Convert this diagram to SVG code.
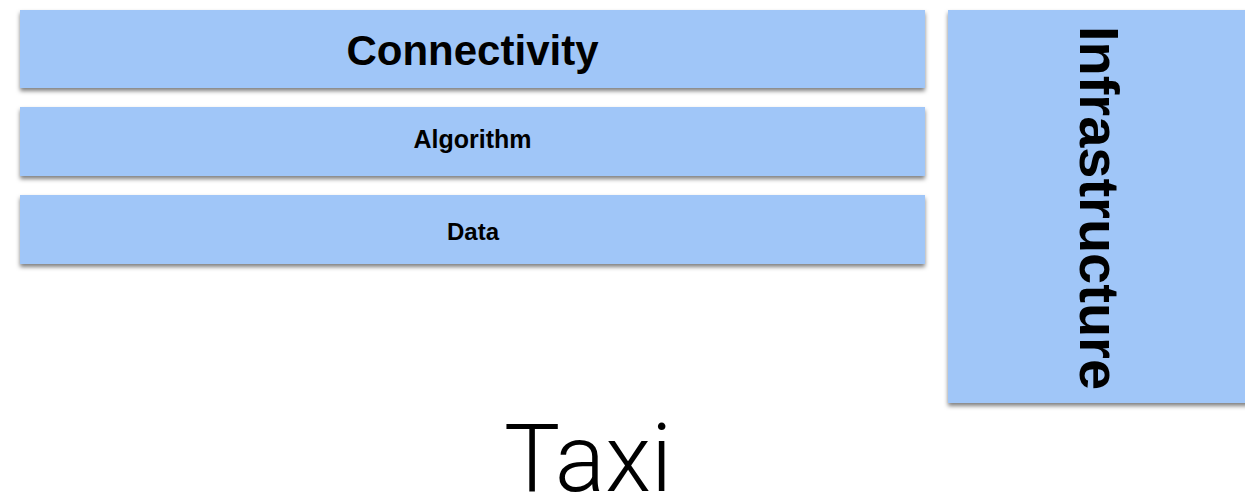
<svg xmlns="http://www.w3.org/2000/svg" width="1245" height="498" viewBox="0 0 1245 498">
<defs>
<style>
.box{fill:#a0c6f8;filter:url(#sh);}
.lbl{font-family:"Liberation Sans",Arial,sans-serif;font-weight:bold;fill:#000;text-anchor:middle;}
.big{font-family:Roboto,"Liberation Sans",sans-serif;font-weight:300;fill:#000;text-anchor:middle;}
</style>
<filter id="sh" x="-5%" y="-20%" width="110%" height="150%">
<feDropShadow dx="0" dy="3" stdDeviation="2" flood-color="#000" flood-opacity="0.5"/>
</filter>
</defs>
<rect width="1245" height="498" fill="#fff"/>
<g id="connectivity">
<rect class="box" x="20" y="10" width="905" height="78"/>
<text class="lbl" x="472.5" y="65" font-size="42">Connectivity</text>
</g>
<g id="algorithm">
<rect class="box" x="20" y="107" width="905" height="69"/>
<text class="lbl" x="472.5" y="148" font-size="25">Algorithm</text>
</g>
<g id="data">
<rect class="box" x="20" y="195" width="905" height="69"/>
<text class="lbl" x="473" y="240" font-size="24">Data</text>
</g>
<g id="infrastructure">
<rect class="box" x="948" y="10" width="310" height="393"/>
<text class="lbl" transform="translate(1080,208) rotate(90)" x="0" y="0" font-size="56">Infrastructure</text>
</g>
<g id="connectors"></g>
<g id="title">
<text class="big" x="588" y="491" font-size="94">Taxi</text>
</g>
</svg>
